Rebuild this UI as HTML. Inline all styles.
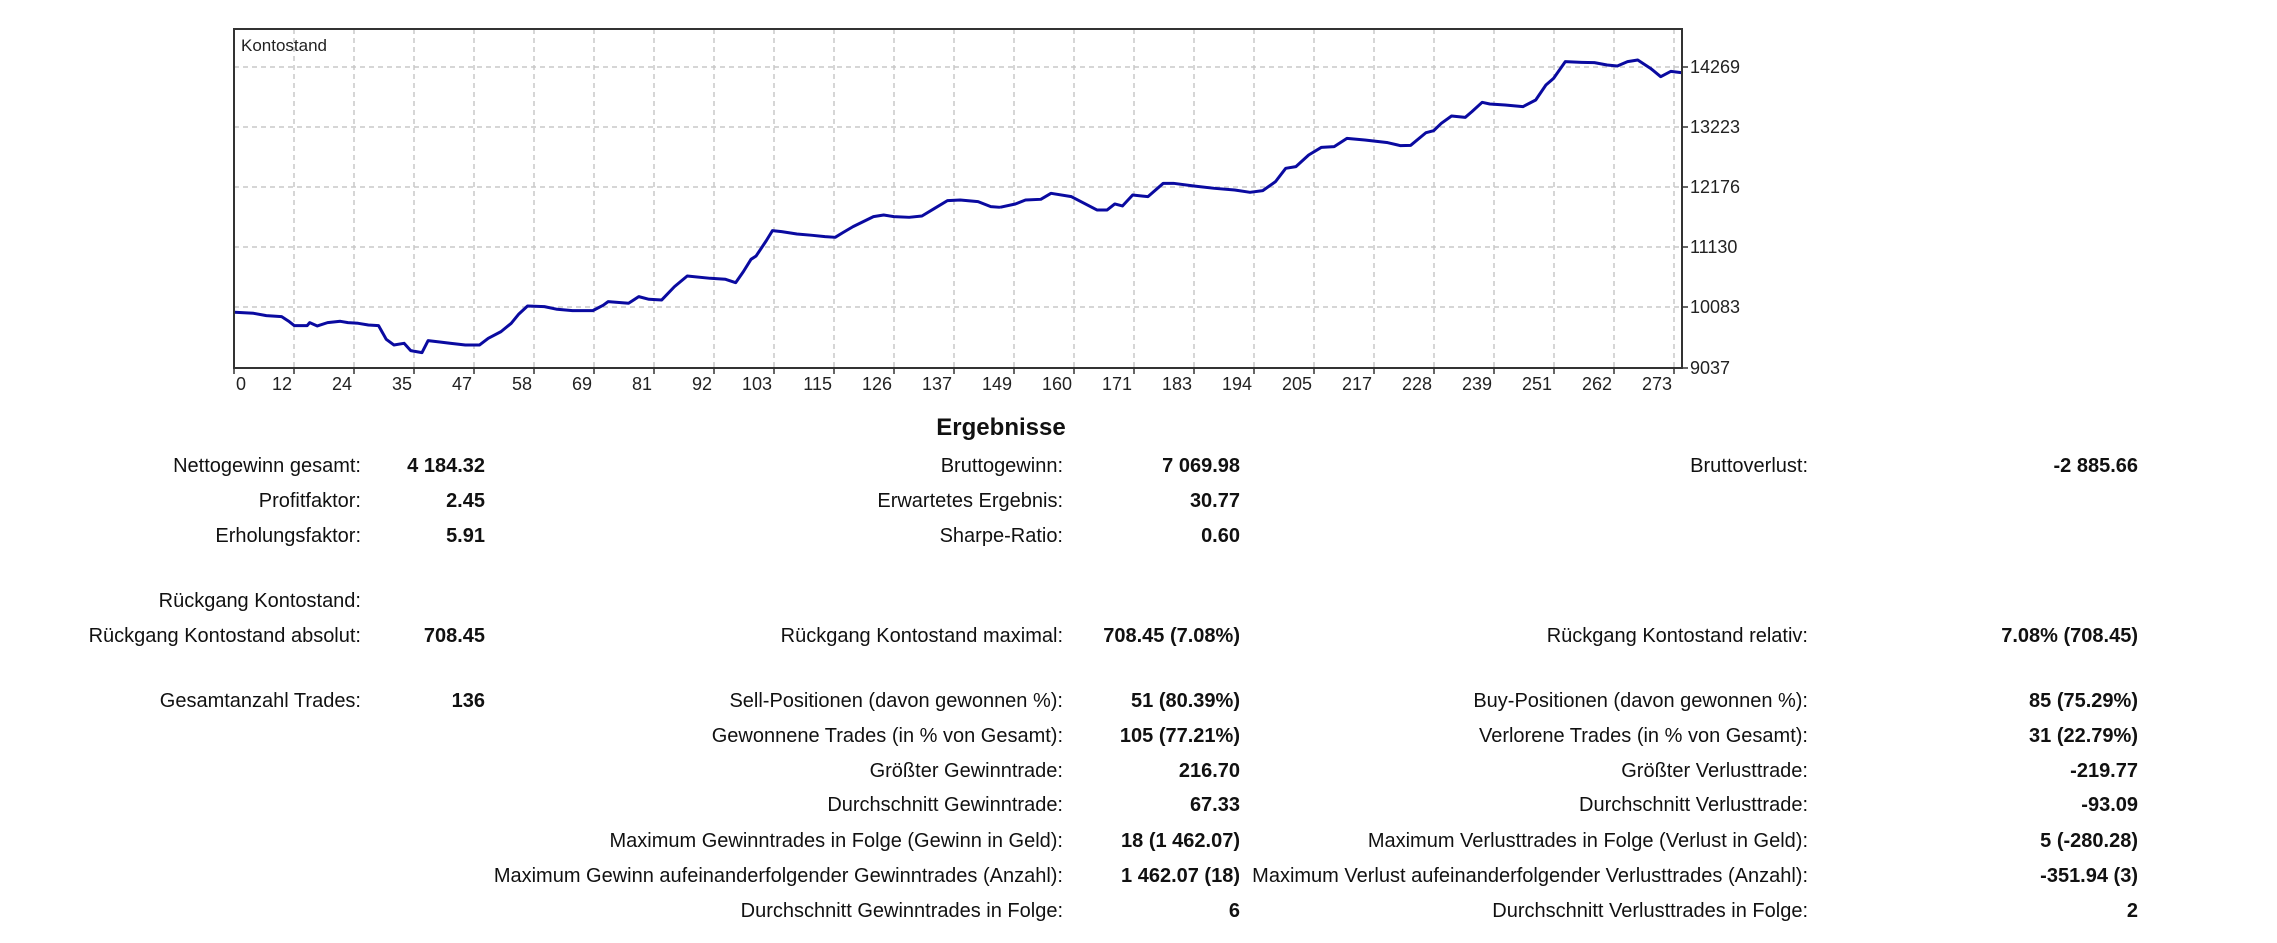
<!DOCTYPE html>
<html><head><meta charset="utf-8"><style>
html,body{margin:0;padding:0;background:#fff;}
body{width:2277px;height:943px;position:relative;overflow:hidden;font-family:"Liberation Sans",sans-serif;}
.t{position:absolute;font-size:20px;color:#111;white-space:nowrap;line-height:24px;}
.l{text-align:right;}
.b{font-weight:bold;text-align:right;}
</style></head><body>
<svg width="2277" height="420" style="position:absolute;left:0;top:0" font-family="Liberation Sans, sans-serif">
<g stroke="#c8c8c8" stroke-width="1.5" stroke-dasharray="5,4">
<line x1="234" y1="67" x2="1682" y2="67"/><line x1="234" y1="127" x2="1682" y2="127"/>
<line x1="234" y1="187" x2="1682" y2="187"/><line x1="234" y1="247" x2="1682" y2="247"/>
<line x1="234" y1="307" x2="1682" y2="307"/>
</g>
<g id="vg" stroke="#c8c8c8" stroke-width="1.5" stroke-dasharray="5,4"></g>
<g transform="translate(200,0) scale(0.5102,0.3333)" fill="none">
<polyline vector-effect="non-scaling-stroke" stroke="#0a0aa0" stroke-width="3" stroke-linejoin="round" points="68,937 105,940 130,947 160,950 175,965 185,977 210,977 215,968 230,978 250,968 275,964 290,968 310,970 330,975 350,977 365,1018 380,1035 400,1030 413,1052 435,1058 447,1022 470,1026 490,1030 520,1035 548,1035 565,1015 590,995 610,970 625,942 642,918 675,920 700,928 730,932 770,932 790,916 800,905 840,910 860,890 880,898 905,900 930,860 955,828 1000,835 1030,838 1050,848 1065,815 1080,778 1090,768 1110,722 1122,692 1140,695 1170,702 1200,706 1225,710 1245,712 1260,698 1280,680 1300,665 1320,650 1340,645 1360,650 1390,652 1415,648 1440,625 1465,602 1490,600 1525,605 1550,620 1568,622"/>
</g>
<g transform="translate(1000,0) scale(0.5102,0.3333)" fill="none">
<polyline vector-effect="non-scaling-stroke" stroke="#0a0aa0" stroke-width="3" stroke-linejoin="round" points="0,622 30,612 50,600 80,598 100,580 140,590 165,610 190,630 210,630 225,612 240,618 260,585 290,590 320,550 340,550 380,558 420,565 460,570 490,577 515,572 540,545 560,505 580,500 605,465 630,442 655,440 680,415 715,420 760,428 785,437 805,436 835,398 850,392 865,370 885,348 912,352 925,335 945,307 960,312 990,315 1025,320 1050,300 1070,255 1085,235 1108,185 1140,187 1165,188 1190,195 1210,198 1230,185 1250,180 1275,205 1295,230 1315,214 1335,218"/>
</g>
<rect x="234" y="29" width="1448" height="339" fill="none" stroke="#333" stroke-width="2"/>
<text x="241" y="51" font-size="17" fill="#222">Kontostand</text>
<g font-size="18" fill="#222">
<text x="1690" y="73">14269</text><text x="1690" y="133">13223</text><text x="1690" y="193">12176</text>
<text x="1690" y="253">11130</text><text x="1690" y="313">10083</text><text x="1690" y="374">9037</text>
</g>
<g id="xl" font-size="18" fill="#222" text-anchor="end"></g>
<g id="tk" stroke="#333" stroke-width="1.5"></g>
</svg>
<script>
var labs=[0,12,24,35,47,58,69,81,92,103,115,126,137,149,160,171,183,194,205,217,228,239,251,262,273];
var vg=document.getElementById('vg'),xl=document.getElementById('xl'),tk=document.getElementById('tk'),ns='http://www.w3.org/2000/svg';
labs.forEach(function(v,i){var x=234+i*60;
if(i>0){var l=document.createElementNS(ns,'line');l.setAttribute('x1',x);l.setAttribute('x2',x);l.setAttribute('y1',29);l.setAttribute('y2',368);vg.appendChild(l);}
var t=document.createElementNS(ns,'text');t.setAttribute('x',i==0?246:x-2);t.setAttribute('y',390);t.textContent=v;xl.appendChild(t);
var k=document.createElementNS(ns,'line');k.setAttribute('x1',x);k.setAttribute('x2',x);k.setAttribute('y1',368);k.setAttribute('y2',374);tk.appendChild(k);});
[67,127,187,247,307,368].forEach(function(y){var k=document.createElementNS(ns,'line');k.setAttribute('x1',1682);k.setAttribute('x2',1688);k.setAttribute('y1',y);k.setAttribute('y2',y);tk.appendChild(k);});
</script>
<div class="t" style="left:0;width:2002px;top:414px;text-align:center;font-weight:bold;font-size:24px;line-height:28px;">Ergebnisse</div>
<!-- col1 -->
<div class="t l" style="right:1916px;top:454px">Nettogewinn gesamt:</div><div class="t b" style="right:1792px;top:454px">4 184.32</div>
<div class="t l" style="right:1916px;top:489px">Profitfaktor:</div><div class="t b" style="right:1792px;top:489px">2.45</div>
<div class="t l" style="right:1916px;top:524px">Erholungsfaktor:</div><div class="t b" style="right:1792px;top:524px">5.91</div>
<div class="t l" style="right:1916px;top:589px">Rückgang Kontostand:</div>
<div class="t l" style="right:1916px;top:624px">Rückgang Kontostand absolut:</div><div class="t b" style="right:1792px;top:624px">708.45</div>
<div class="t l" style="right:1916px;top:689px">Gesamtanzahl Trades:</div><div class="t b" style="right:1792px;top:689px">136</div>
<!-- col2 -->
<div class="t l" style="right:1214px;top:454px">Bruttogewinn:</div><div class="t b" style="right:1037px;top:454px">7 069.98</div>
<div class="t l" style="right:1214px;top:489px">Erwartetes Ergebnis:</div><div class="t b" style="right:1037px;top:489px">30.77</div>
<div class="t l" style="right:1214px;top:524px">Sharpe-Ratio:</div><div class="t b" style="right:1037px;top:524px">0.60</div>
<div class="t l" style="right:1214px;top:624px">Rückgang Kontostand maximal:</div><div class="t b" style="right:1037px;top:624px">708.45 (7.08%)</div>
<div class="t l" style="right:1214px;top:689px">Sell-Positionen (davon gewonnen %):</div><div class="t b" style="right:1037px;top:689px">51 (80.39%)</div>
<div class="t l" style="right:1214px;top:724px">Gewonnene Trades (in % von Gesamt):</div><div class="t b" style="right:1037px;top:724px">105 (77.21%)</div>
<div class="t l" style="right:1214px;top:759px">Größter Gewinntrade:</div><div class="t b" style="right:1037px;top:759px">216.70</div>
<div class="t l" style="right:1214px;top:793px">Durchschnitt Gewinntrade:</div><div class="t b" style="right:1037px;top:793px">67.33</div>
<div class="t l" style="right:1214px;top:829px">Maximum Gewinntrades in Folge (Gewinn in Geld):</div><div class="t b" style="right:1037px;top:829px">18 (1 462.07)</div>
<div class="t l" style="right:1214px;top:864px">Maximum Gewinn aufeinanderfolgender Gewinntrades (Anzahl):</div><div class="t b" style="right:1037px;top:864px">1 462.07 (18)</div>
<div class="t l" style="right:1214px;top:899px">Durchschnitt Gewinntrades in Folge:</div><div class="t b" style="right:1037px;top:899px">6</div>
<!-- col3 -->
<div class="t l" style="right:469px;top:454px">Bruttoverlust:</div><div class="t b" style="right:139px;top:454px">-2 885.66</div>
<div class="t l" style="right:469px;top:624px">Rückgang Kontostand relativ:</div><div class="t b" style="right:139px;top:624px">7.08% (708.45)</div>
<div class="t l" style="right:469px;top:689px">Buy-Positionen (davon gewonnen %):</div><div class="t b" style="right:139px;top:689px">85 (75.29%)</div>
<div class="t l" style="right:469px;top:724px">Verlorene Trades (in % von Gesamt):</div><div class="t b" style="right:139px;top:724px">31 (22.79%)</div>
<div class="t l" style="right:469px;top:759px">Größter Verlusttrade:</div><div class="t b" style="right:139px;top:759px">-219.77</div>
<div class="t l" style="right:469px;top:793px">Durchschnitt Verlusttrade:</div><div class="t b" style="right:139px;top:793px">-93.09</div>
<div class="t l" style="right:469px;top:829px">Maximum Verlusttrades in Folge (Verlust in Geld):</div><div class="t b" style="right:139px;top:829px">5 (-280.28)</div>
<div class="t l" style="right:469px;top:864px">Maximum Verlust aufeinanderfolgender Verlusttrades (Anzahl):</div><div class="t b" style="right:139px;top:864px">-351.94 (3)</div>
<div class="t l" style="right:469px;top:899px">Durchschnitt Verlusttrades in Folge:</div><div class="t b" style="right:139px;top:899px">2</div>
</body></html>
